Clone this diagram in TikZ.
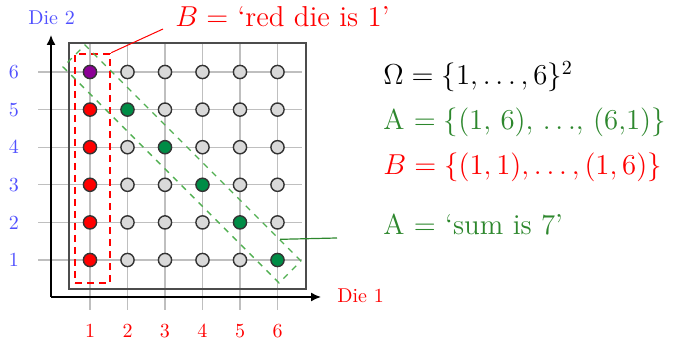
\documentclass[tikz,border=0pt]{standalone}
\usetikzlibrary{arrows.meta,calc}
\definecolor{lblblue}{RGB}{80,80,255}
\definecolor{dotgreen}{RGB}{0,140,70}
\definecolor{txtgreen}{RGB}{45,135,45}
\definecolor{bandgreen}{RGB}{80,175,80}
\definecolor{dotpurple}{RGB}{140,0,150}
\tikzset{
  dot/.style={circle,draw=black!80,line width=0.7pt,minimum size=6.6pt,inner sep=0pt,fill=black!15},
  reddot/.style={dot,fill=red},
  greendot/.style={dot,fill=dotgreen},
  purpledot/.style={dot,fill=dotpurple},
  gridline/.style={black!25,line width=0.6pt},
  ylab/.style={text=lblblue,font=\normalsize},
  xlab/.style={text=red,font=\normalsize},
  bigtext/.style={font=\Large,inner sep=0pt,anchor=base west},
}
\begin{document}
\begin{tikzpicture}[x=0.5pt,y=-0.5pt]
\useasboundingbox (0,0) rectangle (682,341);
% grid lines
\foreach \i in {1,...,6} {
  \pgfmathsetmacro{\cx}{90+(\i-1)*37.5}
  \pgfmathsetmacro{\ry}{72+(6-\i)*37.6}
  \draw[gridline] (\cx,43) -- (\cx,310);
  \draw[gridline] (38,\ry) -- (302,\ry);
}
% frame
\draw[black!70,line width=1pt] (69,43) rectangle (306,289);
% axes
\coordinate (O) at (51,297);
\coordinate (ytip) at (51,35);
\coordinate (xtip) at (321,297);
\draw[line width=0.75pt,-{Latex[length=5pt,width=4.5pt]}] (O) -- (ytip);
\draw[line width=0.75pt,-{Latex[length=5pt,width=4.5pt]}] (O) -- (xtip);
\node[ylab,anchor=base west,inner sep=0pt] (die2) at (28,25) {Die 2};
\node[xlab,anchor=base west,inner sep=0pt] (die1) at (337,303) {Die 1};
% tick labels
\foreach \i in {1,...,6} {
  \pgfmathsetmacro{\cx}{90+(\i-1)*37.5}
  \pgfmathsetmacro{\ry}{72+(6-\i)*37.6}
  \node[ylab] (yl\i) at (14,\ry) {\i};
  \node[xlab,anchor=base,inner sep=0pt] (xl\i) at (\cx,338) {\i};
}
% dots
\foreach \i in {1,...,6} {
  \foreach \j in {1,...,6} {
    \pgfmathsetmacro{\cx}{90+(\i-1)*37.5}
    \pgfmathsetmacro{\ry}{72+(6-\j)*37.6}
    \pgfmathtruncatemacro{\s}{\i+\j}
    \ifnum\i=1
      \ifnum\j=6
        \node[purpledot] (d\i\j) at (\cx,\ry) {};
      \else
        \node[reddot] (d\i\j) at (\cx,\ry) {};
      \fi
    \else
      \ifnum\s=7
        \node[greendot] (d\i\j) at (\cx,\ry) {};
      \else
        \node[dot] (d\i\j) at (\cx,\ry) {};
      \fi
    \fi
  }
}
% B box
\node[draw=red,line width=1.3pt,dash pattern=on 3.5pt off 2.5pt,minimum width=17.5pt,minimum height=114.5pt,inner sep=0pt] (Bbox) at (92.5,168.5) {};
\node[bigtext,text=red] (Blabel) at (175,27) {$B =$ `red die is 1'};
\coordinate (Bend) at (163,29);
\draw[red,line width=0.5pt] (Bbox.north east) -- (Bend);
% A band
\node[draw=bandgreen,line width=0.65pt,dash pattern=on 3pt off 3pt,rotate=-45,minimum width=152.7pt,minimum height=15.5pt,inner sep=0pt] (Aband) at (182,164) {};
% right texts
\node[bigtext] (omega) at (383,85) {$\Omega = \{1,\ldots,6\}^2$};
\node[bigtext,text=txtgreen] (Aset) at (383,130) {A $=\{$(1, 6), $\ldots$, (6,1)$\}$};
\node[bigtext,text=red] (Bset) at (383,175) {$B=\{(1,1),\ldots,(1,6)\}$};
\node[bigtext,text=txtgreen] (Alabel) at (383,235) {A $=$ `sum is 7'};
\coordinate (Aend) at (337,238);
\draw[txtgreen,line width=0.6pt] ($(Aband.north west)!0.9!(Aband.north east)$) -- (Aend);
\end{tikzpicture}
\end{document}
